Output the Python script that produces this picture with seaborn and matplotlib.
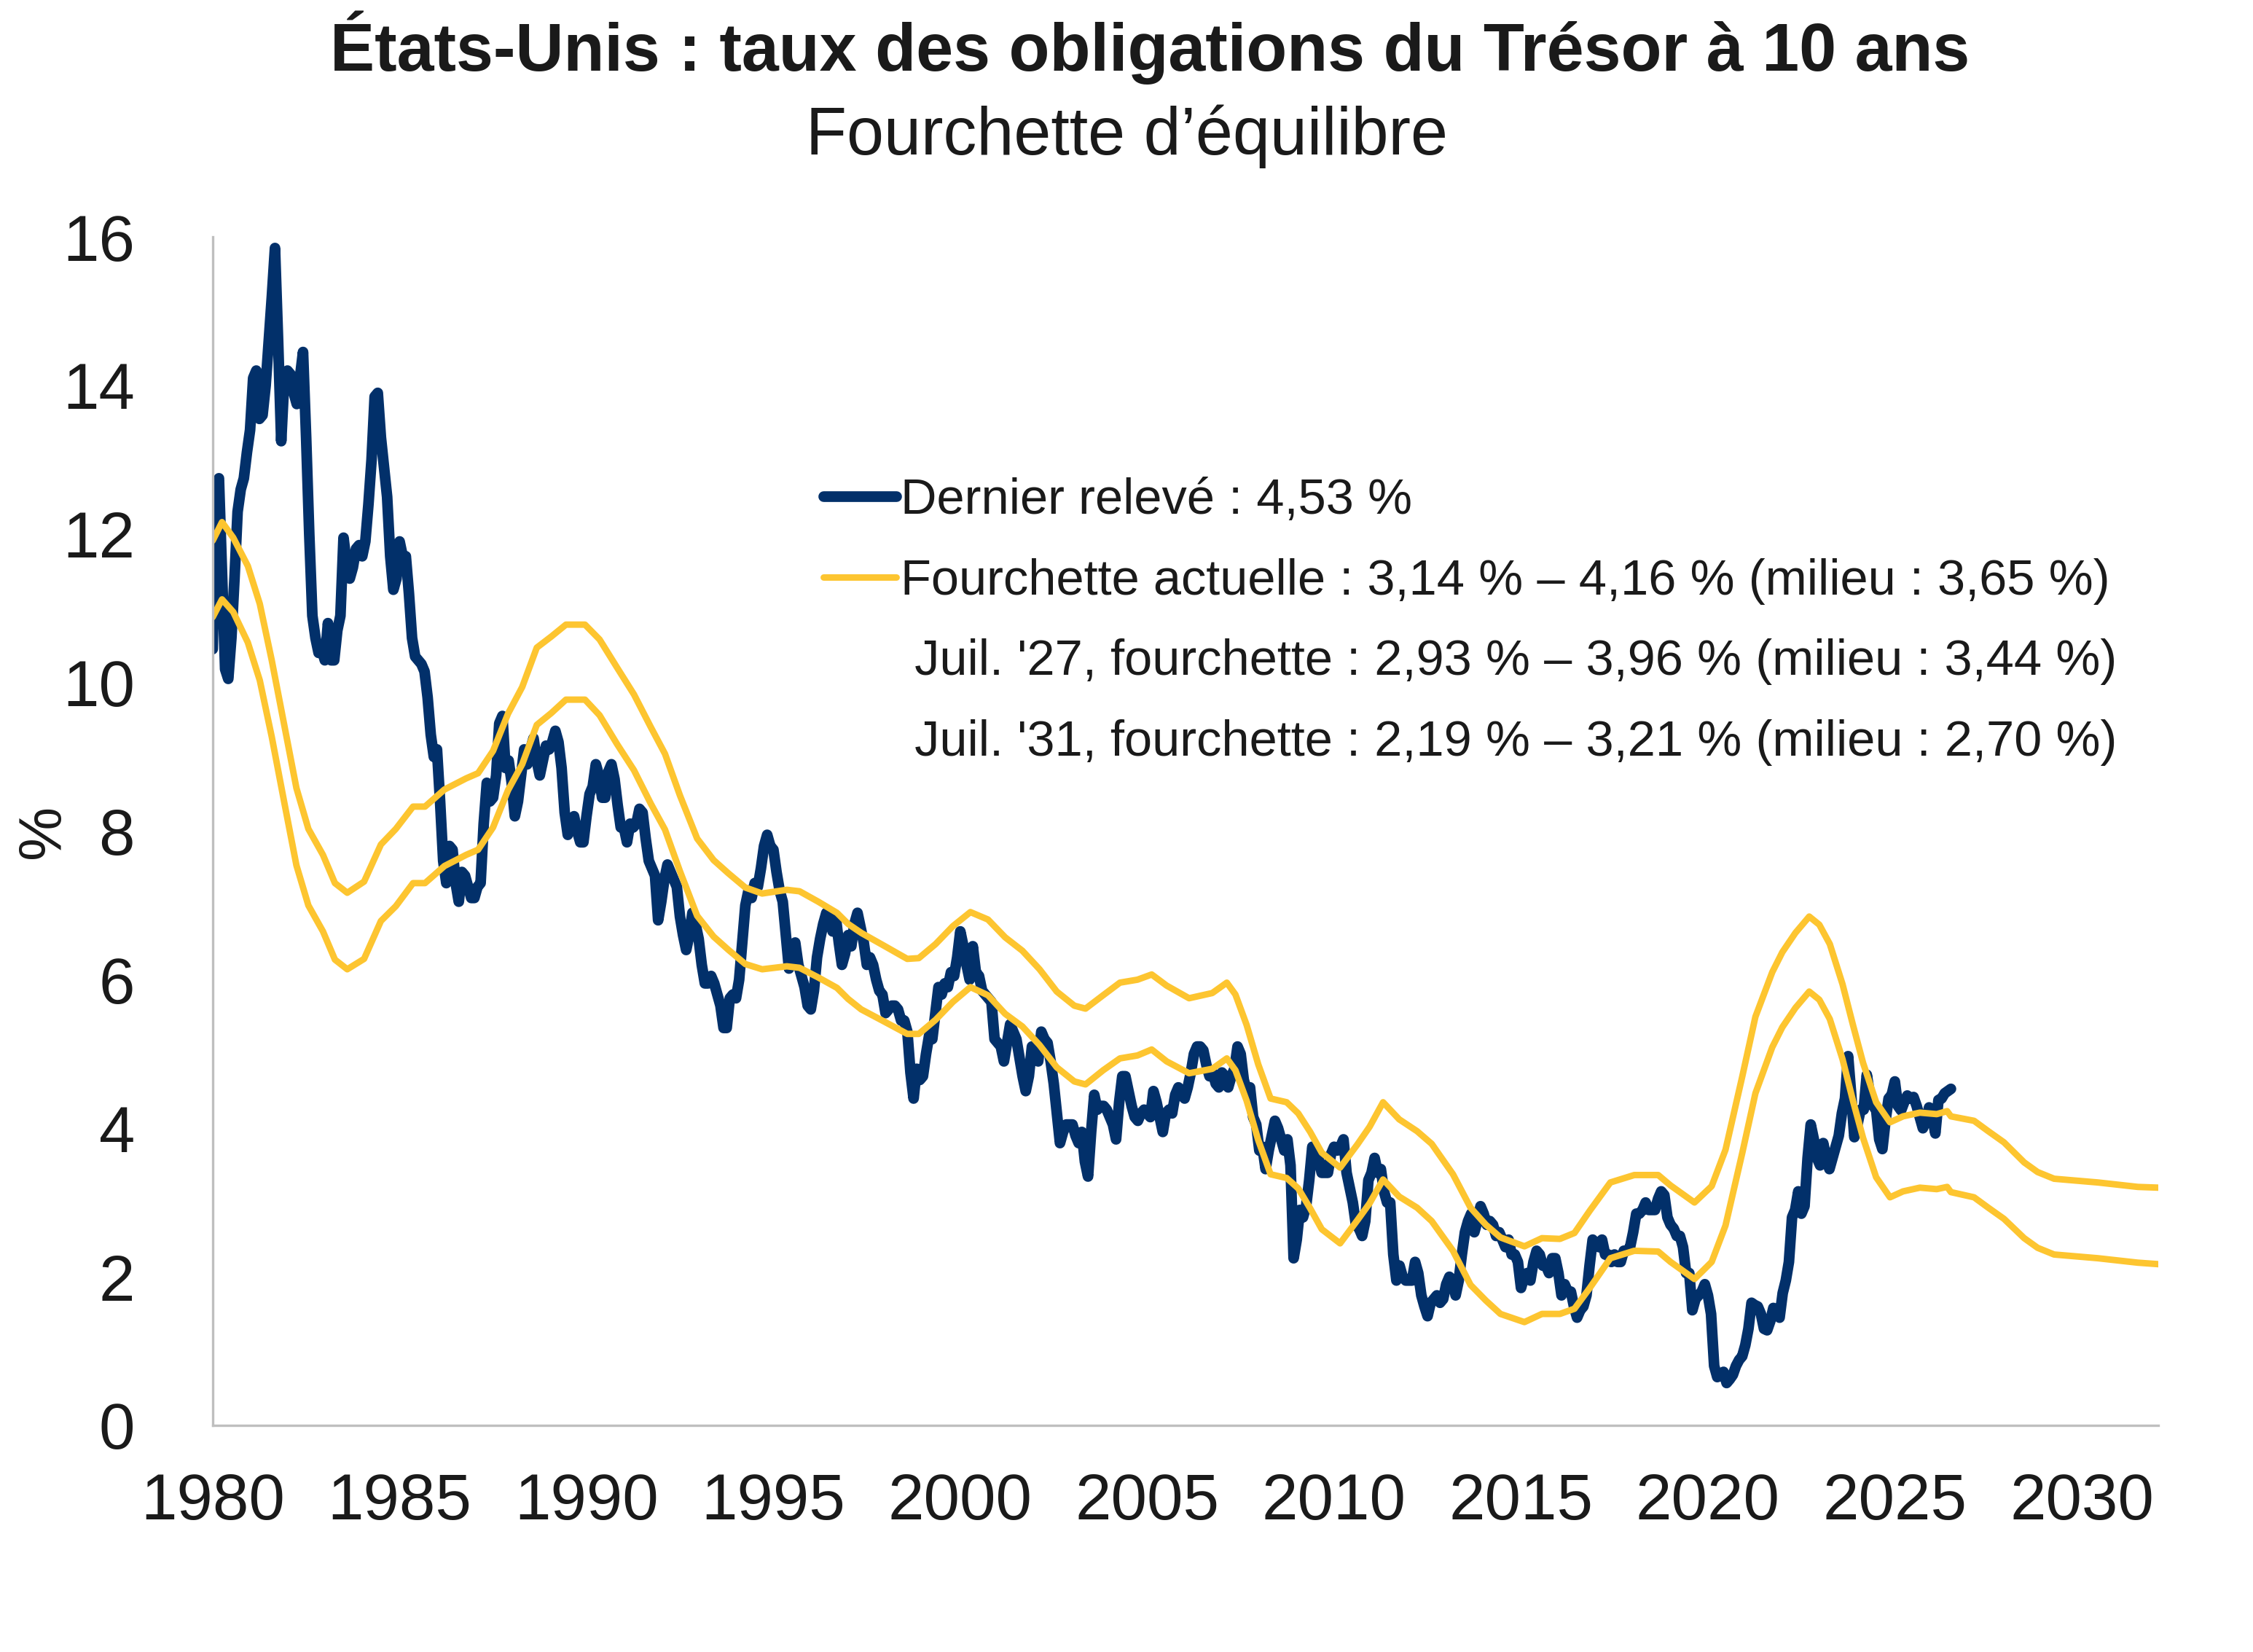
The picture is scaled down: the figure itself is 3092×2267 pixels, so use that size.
import numpy as np
import pandas as pd
import matplotlib
matplotlib.use("Agg")
import matplotlib.pyplot as plt
from matplotlib.lines import Line2D
import seaborn as sns

# Taux des obligations du Trésor à 10 ans, valeurs mensuelles (janv. 1980 -> juil. 2026)
taux_1980s = [
    10.45, 12.65, 12.75, 11.47, 10.18, 10.05, 10.60, 11.40, 12.30, 12.60, 12.75, 13.10,
    13.40, 14.10, 14.20, 13.55, 13.60, 14.00, 14.60, 15.20, 15.85, 14.60, 13.25, 14.10,
    14.20, 14.15, 13.90, 13.75, 14.10, 14.45, 13.30, 12.00, 10.90, 10.60, 10.40, 10.45,
    10.30, 10.80, 10.30, 10.30, 10.70, 10.90, 11.95, 11.60, 11.40, 11.55, 11.80, 11.85,
    11.70, 11.90, 12.40, 13.00, 13.85, 13.90, 13.30, 12.90, 12.50, 11.70, 11.25, 11.40,
    11.90, 11.70, 11.70, 11.20, 10.60, 10.35, 10.30, 10.25, 10.15, 9.80, 9.30, 9.00,
    9.10, 8.40, 7.60, 7.30, 7.80, 7.75, 7.30, 7.05, 7.45, 7.40, 7.25, 7.10,
    7.10, 7.25, 7.30, 8.10, 8.65, 8.40, 8.45, 8.75, 9.45, 9.55, 8.85, 8.95,
    8.65, 8.20, 8.40, 8.75, 9.10, 8.90, 9.10, 9.25, 8.95, 8.75, 8.95, 9.15,
    9.10, 9.20, 9.35, 9.20, 8.85, 8.25, 7.95, 8.15, 8.20, 8.00, 7.85, 7.85,
]
taux_1990s = [
    8.20, 8.50, 8.60, 8.90, 8.75, 8.45, 8.45, 8.80, 8.90, 8.70, 8.35, 8.05,
    8.05, 7.85, 8.10, 8.05, 8.10, 8.30, 8.25, 7.90, 7.60, 7.50, 7.40, 6.80,
    7.05, 7.35, 7.55, 7.45, 7.35, 7.25, 6.85, 6.60, 6.40, 6.60, 6.90, 6.75,
    6.55, 6.20, 5.95, 5.95, 6.05, 5.95, 5.80, 5.65, 5.35, 5.35, 5.75, 5.80,
    5.75, 6.00, 6.50, 7.00, 7.20, 7.10, 7.30, 7.25, 7.50, 7.80, 7.95, 7.80,
    7.75, 7.45, 7.20, 7.05, 6.60, 6.15, 6.30, 6.50, 6.20, 6.05, 5.90, 5.65,
    5.60, 5.85, 6.30, 6.55, 6.75, 6.90, 6.85, 6.65, 6.85, 6.50, 6.20, 6.35,
    6.60, 6.45, 6.75, 6.90, 6.70, 6.50, 6.20, 6.30, 6.20, 6.00, 5.85, 5.80,
    5.55, 5.60, 5.65, 5.65, 5.60, 5.45, 5.45, 5.30, 4.75, 4.40, 4.80, 4.65,
    4.70, 5.00, 5.25, 5.20, 5.55, 5.90, 5.80, 5.95, 5.90, 6.10, 6.05, 6.30,
]
taux_2000s = [
    6.65, 6.45, 6.20, 6.00, 6.45, 6.10, 6.05, 5.85, 5.80, 5.75, 5.70, 5.20,
    5.15, 5.10, 4.90, 5.15, 5.40, 5.30, 5.20, 4.95, 4.70, 4.50, 4.70, 5.10,
    5.05, 4.90, 5.30, 5.20, 5.15, 4.90, 4.60, 4.20, 3.80, 3.95, 4.05, 4.05,
    4.05, 3.90, 3.80, 3.95, 3.55, 3.35, 3.95, 4.45, 4.25, 4.30, 4.30, 4.25,
    4.15, 4.05, 3.85, 4.35, 4.70, 4.70, 4.50, 4.30, 4.15, 4.10, 4.20, 4.25,
    4.20, 4.15, 4.50, 4.35, 4.15, 3.95, 4.20, 4.25, 4.20, 4.45, 4.55, 4.45,
    4.40, 4.55, 4.75, 5.00, 5.10, 5.10, 5.05, 4.85, 4.70, 4.75, 4.60, 4.55,
    4.75, 4.70, 4.55, 4.70, 4.80, 5.10, 5.00, 4.65, 4.50, 4.55, 4.15, 4.05,
    3.70, 3.75, 3.45, 3.70, 3.90, 4.10, 4.00, 3.85, 3.70, 3.85, 3.50, 2.25,
    2.50, 2.90, 2.80, 2.95, 3.30, 3.75, 3.55, 3.60, 3.40, 3.40, 3.40, 3.65,
]
taux_2010s = [
    3.75, 3.70, 3.75, 3.85, 3.40, 3.20, 3.00, 2.70, 2.65, 2.55, 2.75, 3.30,
    3.40, 3.60, 3.40, 3.45, 3.15, 3.00, 3.00, 2.30, 1.95, 2.15, 2.00, 1.95,
    1.95, 1.95, 2.20, 2.05, 1.75, 1.60, 1.47, 1.65, 1.70, 1.75, 1.65, 1.70,
    1.90, 2.00, 1.95, 1.75, 1.95, 2.30, 2.60, 2.75, 2.85, 2.60, 2.75, 2.95,
    2.85, 2.70, 2.75, 2.70, 2.55, 2.60, 2.50, 2.40, 2.50, 2.30, 2.30, 2.20,
    1.85, 2.00, 2.05, 1.95, 2.20, 2.35, 2.30, 2.15, 2.15, 2.05, 2.25, 2.25,
    2.05, 1.75, 1.90, 1.80, 1.80, 1.60, 1.45, 1.55, 1.60, 1.75, 2.15, 2.50,
    2.45, 2.40, 2.50, 2.30, 2.30, 2.20, 2.30, 2.20, 2.20, 2.35, 2.35, 2.40,
    2.60, 2.85, 2.85, 2.90, 3.00, 2.90, 2.90, 2.90, 3.05, 3.15, 3.10, 2.80,
    2.70, 2.65, 2.55, 2.55, 2.40, 2.05, 2.05, 1.55, 1.70, 1.75, 1.80, 1.90,
]
taux_2020s = [
    1.75, 1.50, 0.80, 0.65, 0.67, 0.72, 0.57, 0.62, 0.68, 0.80, 0.88, 0.93,
    1.08, 1.30, 1.65, 1.62, 1.60, 1.50, 1.30, 1.28, 1.40, 1.58, 1.55, 1.45,
    1.78, 1.95, 2.20, 2.80, 2.90, 3.15, 2.85, 2.95, 3.60, 4.05, 3.85, 3.60,
    3.50, 3.80, 3.60, 3.45, 3.60, 3.75, 3.90, 4.20, 4.40, 4.97, 4.45, 3.88,
    4.05, 4.25, 4.25, 4.72, 4.45, 4.30, 4.25, 3.85, 3.72, 4.10, 4.40, 4.45,
    4.63, 4.30, 4.24, 4.35, 4.44, 4.40, 4.42, 4.30, 4.15, 4.00, 4.10, 4.28,
    4.15, 3.93, 4.38, 4.40, 4.47, 4.50, 4.53,
]

# Fourchette d'équilibre (bornes haute et basse), avec projection jusqu'en 2032
fourchette_annees = [
    1980.00, 1980.25, 1980.55, 1980.94, 1981.26, 1981.58, 1981.91, 1982.24, 1982.56, 1982.95,
    1983.27, 1983.60, 1984.05, 1984.50, 1984.90, 1985.36, 1985.68, 1986.20, 1986.78, 1987.10,
    1987.50, 1987.90, 1988.28, 1988.67, 1989.06, 1989.45, 1989.96, 1990.35, 1990.82, 1991.27,
    1991.72, 1992.10, 1992.50, 1992.96, 1993.40, 1993.80, 1994.25, 1994.70, 1995.36, 1995.70,
    1996.20, 1996.70, 1997.00, 1997.35, 1997.95, 1998.58, 1998.89, 1999.34, 1999.80, 2000.27,
    2000.74, 2001.20, 2001.66, 2002.12, 2002.58, 2003.05, 2003.35, 2003.82, 2004.27, 2004.74,
    2005.12, 2005.52, 2006.12, 2006.74, 2007.13, 2007.36, 2007.66, 2007.97, 2008.30, 2008.73,
    2009.04, 2009.36, 2009.67, 2010.16, 2010.62, 2010.95, 2011.31, 2011.74, 2012.22, 2012.61,
    2013.18, 2013.65, 2014.06, 2014.45, 2015.09, 2015.56, 2016.04, 2016.43, 2016.84, 2017.39,
    2018.03, 2018.67, 2019.00, 2019.64, 2020.10, 2020.47, 2020.92, 2021.27, 2021.72, 2021.99,
    2022.34, 2022.71, 2022.98, 2023.26, 2023.60, 2023.88, 2024.15, 2024.50, 2024.87, 2025.22,
    2025.67, 2026.12, 2026.40, 2026.50, 2027.12, 2027.50, 2027.92, 2028.46, 2028.82, 2029.26,
    2030.43, 2031.50, 2032.05,
]
fourchette_haut = [
    11.91, 12.16, 11.95, 11.57, 11.06, 10.30, 9.44, 8.58, 8.03, 7.68,
    7.30, 7.17, 7.32, 7.82, 8.03, 8.33, 8.33, 8.56, 8.71, 8.78,
    9.08, 9.58, 9.94, 10.47, 10.62, 10.78, 10.78, 10.58, 10.20, 9.84,
    9.40, 9.04, 8.48, 7.90, 7.61, 7.43, 7.24, 7.16, 7.21, 7.19,
    7.05, 6.90, 6.75, 6.63, 6.46, 6.28, 6.29, 6.48, 6.72, 6.91,
    6.81, 6.57, 6.39, 6.14, 5.84, 5.65, 5.61, 5.79, 5.96, 6.00,
    6.07, 5.92, 5.75, 5.82, 5.96, 5.80, 5.39, 4.86, 4.40, 4.35,
    4.20, 3.95, 3.67, 3.47, 3.78, 4.02, 4.35, 4.12, 3.96, 3.79,
    3.38, 2.93, 2.70, 2.53, 2.41, 2.52, 2.51, 2.59, 2.89, 3.27,
    3.37, 3.37, 3.23, 3.00, 3.22, 3.71, 4.70, 5.50, 6.10, 6.37,
    6.63, 6.85, 6.74, 6.48, 5.94, 5.39, 4.88, 4.35, 4.08, 4.16,
    4.21, 4.19, 4.23, 4.16, 4.10, 3.96, 3.81, 3.54, 3.41, 3.32,
    3.27, 3.21, 3.20,
]
fourchette_bas = [
    10.88, 11.12, 10.95, 10.54, 10.03, 9.27, 8.40, 7.54, 7.00, 6.65,
    6.27, 6.14, 6.28, 6.79, 6.99, 7.30, 7.30, 7.53, 7.68, 7.75,
    8.05, 8.55, 8.90, 9.43, 9.59, 9.77, 9.77, 9.56, 9.17, 8.82,
    8.37, 8.02, 7.46, 6.86, 6.58, 6.40, 6.21, 6.14, 6.18, 6.16,
    6.03, 5.89, 5.74, 5.60, 5.44, 5.27, 5.27, 5.46, 5.70, 5.90,
    5.79, 5.54, 5.37, 5.12, 4.82, 4.63, 4.59, 4.78, 4.94, 4.98,
    5.06, 4.90, 4.74, 4.80, 4.94, 4.78, 4.37, 3.84, 3.38, 3.33,
    3.19, 2.92, 2.64, 2.45, 2.76, 2.99, 3.31, 3.08, 2.93, 2.75,
    2.35, 1.89, 1.68, 1.50, 1.39, 1.50, 1.50, 1.57, 1.85, 2.25,
    2.35, 2.34, 2.20, 1.97, 2.20, 2.69, 3.67, 4.47, 5.09, 5.36,
    5.62, 5.84, 5.73, 5.47, 4.93, 4.37, 3.87, 3.34, 3.07, 3.15,
    3.20, 3.18, 3.21, 3.14, 3.07, 2.93, 2.78, 2.52, 2.39, 2.30,
    2.25, 2.19, 2.17,
]

libelles = [
    "Dernier relevé : 4,53 %",
    "Fourchette actuelle : 3,14 % \u2013 4,16 % (milieu : 3,65 %)",
    " Juil. '27, fourchette : 2,93 % \u2013 3,96 % (milieu : 3,44 %)",
    " Juil. '31, fourchette : 2,19 % \u2013 3,21 % (milieu : 2,70 %)",
]

BLEU = "#02306A"
JAUNE = "#FDC530"
TEXTE = "#1a1a1a"

taux = taux_1980s + taux_1990s + taux_2000s + taux_2010s + taux_2020s
df_taux = pd.DataFrame({"annee": 1980 + np.arange(len(taux)) / 12, "taux": taux})
df_fourchette = pd.DataFrame({"annee": fourchette_annees,
                              "haut": fourchette_haut, "bas": fourchette_bas})

sns.set_style("white")
plt.rcParams["font.family"] = ["Liberation Sans", "DejaVu Sans"]

fig = plt.figure(figsize=(15.46, 11.335), dpi=200)
ax = fig.add_axes([0.0944, 0.1372, 0.8636, 0.7194])

sns.lineplot(data=df_taux, x="annee", y="taux", color=BLEU, linewidth=5.3,
             estimator=None, ax=ax, solid_joinstyle="round")
sns.lineplot(data=df_fourchette, x="annee", y="haut", color=JAUNE, linewidth=3.2,
             estimator=None, ax=ax)
sns.lineplot(data=df_fourchette, x="annee", y="bas", color=JAUNE, linewidth=3.2,
             estimator=None, ax=ax)

ax.set_xlim(1980, 2032.05)
ax.set_ylim(0, 16)
ax.set_xticks(range(1980, 2031, 5))
ax.set_yticks(range(0, 17, 2))
ax.tick_params(axis="x", length=0, pad=23, labelsize=32, colors=TEXTE)
ax.tick_params(axis="y", length=0, pad=38.5, labelsize=32, colors=TEXTE)
ax.set_xlabel("")
ax.set_ylabel("")
fig.text(0.0194, 0.1372 + 0.7194 / 2, "%", rotation=90, ha="center", va="center",
         fontsize=30, color=TEXTE)

for cote in ["top", "right"]:
    ax.spines[cote].set_visible(False)
for cote in ["left", "bottom"]:
    ax.spines[cote].set_color("#BFBFBF")
    ax.spines[cote].set_linewidth(1.2)

poignees = [
    Line2D([], [], color=BLEU, lw=5.3, solid_capstyle="round"),
    Line2D([], [], color=JAUNE, lw=3.2, solid_capstyle="round"),
    Line2D([], [], color="none"),
    Line2D([], [], color="none"),
]
fig.legend(poignees, libelles, loc="upper left", bbox_to_anchor=(0.3655, 0.711),
           frameon=False, fontsize=24.7, handlelength=1.45, handletextpad=0.1,
           borderpad=0, borderaxespad=0, labelspacing=0.68, labelcolor=TEXTE)

fig.text(0.5103, 0.9572, "États-Unis : taux des obligations du Trésor à 10 ans",
         ha="center", va="baseline", fontsize=33, fontweight="bold", color=TEXTE)
fig.text(0.5, 0.9065, "Fourchette d\u2019équilibre", ha="center", va="baseline",
         fontsize=33, color=TEXTE)

fig.savefig("out.png", dpi=200, facecolor="white")
